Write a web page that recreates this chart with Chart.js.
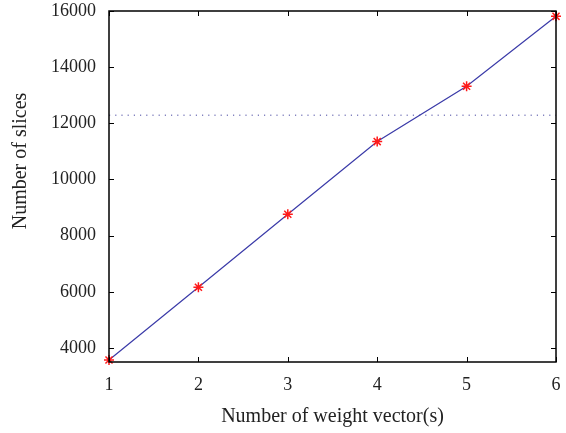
<!DOCTYPE html>
<html><head><meta charset="utf-8">
<script src="https://cdn.jsdelivr.net/npm/chart.js@4/dist/chart.umd.min.js"></script>
<style>html,body{margin:0;padding:0;background:#fff}#wrap{width:566px;height:433px}</style>
</head><body><div id="wrap"><canvas id="c" width="566" height="433"></canvas></div>
<script>
const xValues = [1, 2, 3, 4, 5, 6];
const sliceCounts = [3570, 6160, 8760, 11350, 13320, 15810];
const thresholdValue = 12290;
const xTicks = [1, 2, 3, 4, 5, 6];
const yTicks = [4000, 6000, 8000, 10000, 12000, 14000, 16000];
const yTitle = 'Number of slices';

const fam = "'Liberation Serif', 'DejaVu Serif', serif";
const tickFont = {family: fam, size: 18};
const titleFont = {family: fam, size: 20};

const boxPlugin = {
  id: 'box',
  afterDraw(chart) {
    const {ctx, chartArea: a, scales} = chart;
    ctx.save();
    ctx.strokeStyle = '#000';
    ctx.lineWidth = 1;
    ctx.beginPath();
    const L = 5;
    xTicks.forEach(v => {
      const px = Math.round(scales.x.getPixelForValue(v)) + 0.5;
      ctx.moveTo(px, a.bottom); ctx.lineTo(px, a.bottom - L);
      ctx.moveTo(px, a.top); ctx.lineTo(px, a.top + L);
    });
    yTicks.forEach(v => {
      const py = Math.round(scales.y.getPixelForValue(v)) + 0.5;
      ctx.moveTo(a.left, py); ctx.lineTo(a.left + L, py);
      ctx.moveTo(a.right, py); ctx.lineTo(a.right - L, py);
    });
    ctx.stroke();
    ctx.lineWidth = 1.5;
    ctx.strokeRect(a.left, a.top, a.right - a.left, a.bottom - a.top);
    // y-axis title, placed as in the reference (above centre of the axis)
    ctx.translate(21, 161);
    ctx.rotate(-Math.PI / 2);
    ctx.fillStyle = '#222';
    ctx.font = titleFont.size + 'px ' + fam;
    ctx.textAlign = 'center';
    ctx.textBaseline = 'middle';
    ctx.fillText(yTitle, 0, 0);
    ctx.restore();
  }
};

new Chart(document.getElementById('c'), {
  type: 'line',
  data: {
    datasets: [
      {
        data: xValues.map((x, i) => ({x, y: sliceCounts[i]})),
        borderColor: '#3a3aa8',
        borderWidth: 1.2,
        pointStyle: 'star',
        pointRadius: 5,
        pointBorderColor: '#ff1a1a',
        pointBorderWidth: 1.5,
        pointBackgroundColor: '#ff1a1a',
        tension: 0,
        clip: false
      },
      {
        data: [{x: xValues[0], y: thresholdValue}, {x: xValues[xValues.length - 1], y: thresholdValue}],
        borderColor: '#4646a0',
        borderWidth: 1,
        borderDash: [1.2, 5],
        pointRadius: 0,
        tension: 0
      }
    ]
  },
  plugins: [boxPlugin],
  options: {
    responsive: false,
    animation: false,
    layout: {padding: {left: 0, right: 10, top: 11, bottom: 0}},
    plugins: {legend: {display: false}, tooltip: {enabled: false}},
    scales: {
      x: {
        type: 'linear', min: 1, max: 6,
        afterBuildTicks: s => { s.ticks = xTicks.map(v => ({value: v})); },
        afterFit: s => { s.height = 71; s.paddingLeft = 0; s.paddingRight = 0; },
        grid: {display: false, drawTicks: false},
        border: {display: false},
        ticks: {font: tickFont, color: '#222', padding: 12},
        title: {display: true, text: 'Number of weight vector(s)', font: titleFont, color: '#222', padding: {top: 6}}
      },
      y: {
        type: 'linear', min: 3500, max: 16000,
        afterBuildTicks: s => { s.ticks = yTicks.map(v => ({value: v})); },
        afterFit: s => { s.width = 109; s.paddingTop = 0; s.paddingBottom = 0; },
        grid: {display: false, drawTicks: false},
        border: {display: false},
        ticks: {font: tickFont, color: '#222', padding: 13, callback: v => String(v)},
        title: {display: false}
      }
    }
  }
});
</script></body></html>
